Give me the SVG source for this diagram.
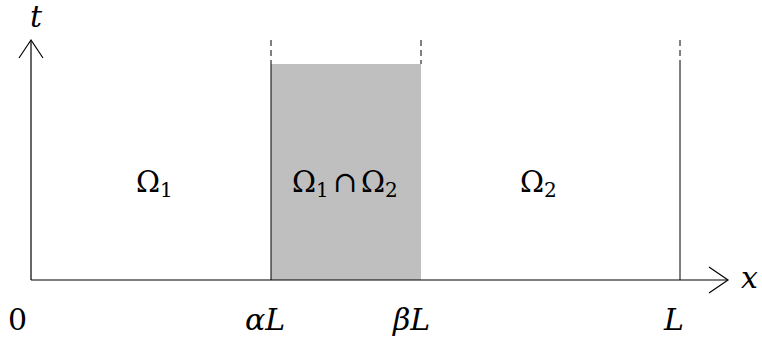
<svg xmlns="http://www.w3.org/2000/svg" width="762" height="340" viewBox="0 0 762 340">
<style>
.ax{stroke:#000;stroke-width:1.2;fill:none}
.ln{stroke:#000;stroke-width:1;fill:none}
.ds{stroke:#000;stroke-width:1;fill:none;stroke-dasharray:6,4}
.it{font-style:italic}
</style>
<rect width="762" height="340" fill="#fff"/>
<g id="overlap">
<rect x="271" y="64" width="150" height="216" fill="#bfbfbf"/>
</g>
<g id="connectors">
<line class="ln" x1="271" y1="64" x2="271" y2="280"/>
<line class="ln" x1="680" y1="64" x2="680" y2="280"/>
<line class="ds" x1="271" y1="40" x2="271" y2="64"/>
<line class="ds" x1="421" y1="40" x2="421" y2="64"/>
<line class="ds" x1="680" y1="40" x2="680" y2="64"/>
<line class="ax" x1="31" y1="280" x2="31" y2="41"/>
<polyline class="ax" points="19,58 31,40 43,58"/>
<line class="ax" x1="31" y1="280" x2="727" y2="280"/>
<polyline class="ax" points="709,267 728,280 709,293"/>
</g>
<g id="labels" font-family="'DejaVu Serif', serif" font-size="30">
<text class="it" x="30" y="27">t</text>
<text class="it" x="741" y="288">x</text>
<text x="8" y="330">0</text>
<text class="it" x="245" y="330">αL</text>
<text class="it" x="393" y="330">βL</text>
<text class="it" x="664" y="330">L</text>
</g>
<g id="omega1" font-family="'DejaVu Serif', serif" font-size="29"><text x="136" y="192">Ω<tspan font-size="20" dy="5">1</tspan></text></g>
<g id="omega12" font-family="'DejaVu Serif', serif" font-size="29"><text x="292" y="192">Ω<tspan font-size="20" dy="5">1</tspan></text><text x="333" y="192">∩</text><text x="361" y="192">Ω<tspan font-size="20" dy="5">2</tspan></text></g>
<g id="omega2" font-family="'DejaVu Serif', serif" font-size="29"><text x="520" y="192">Ω<tspan font-size="20" dy="5">2</tspan></text></g>
</svg>
